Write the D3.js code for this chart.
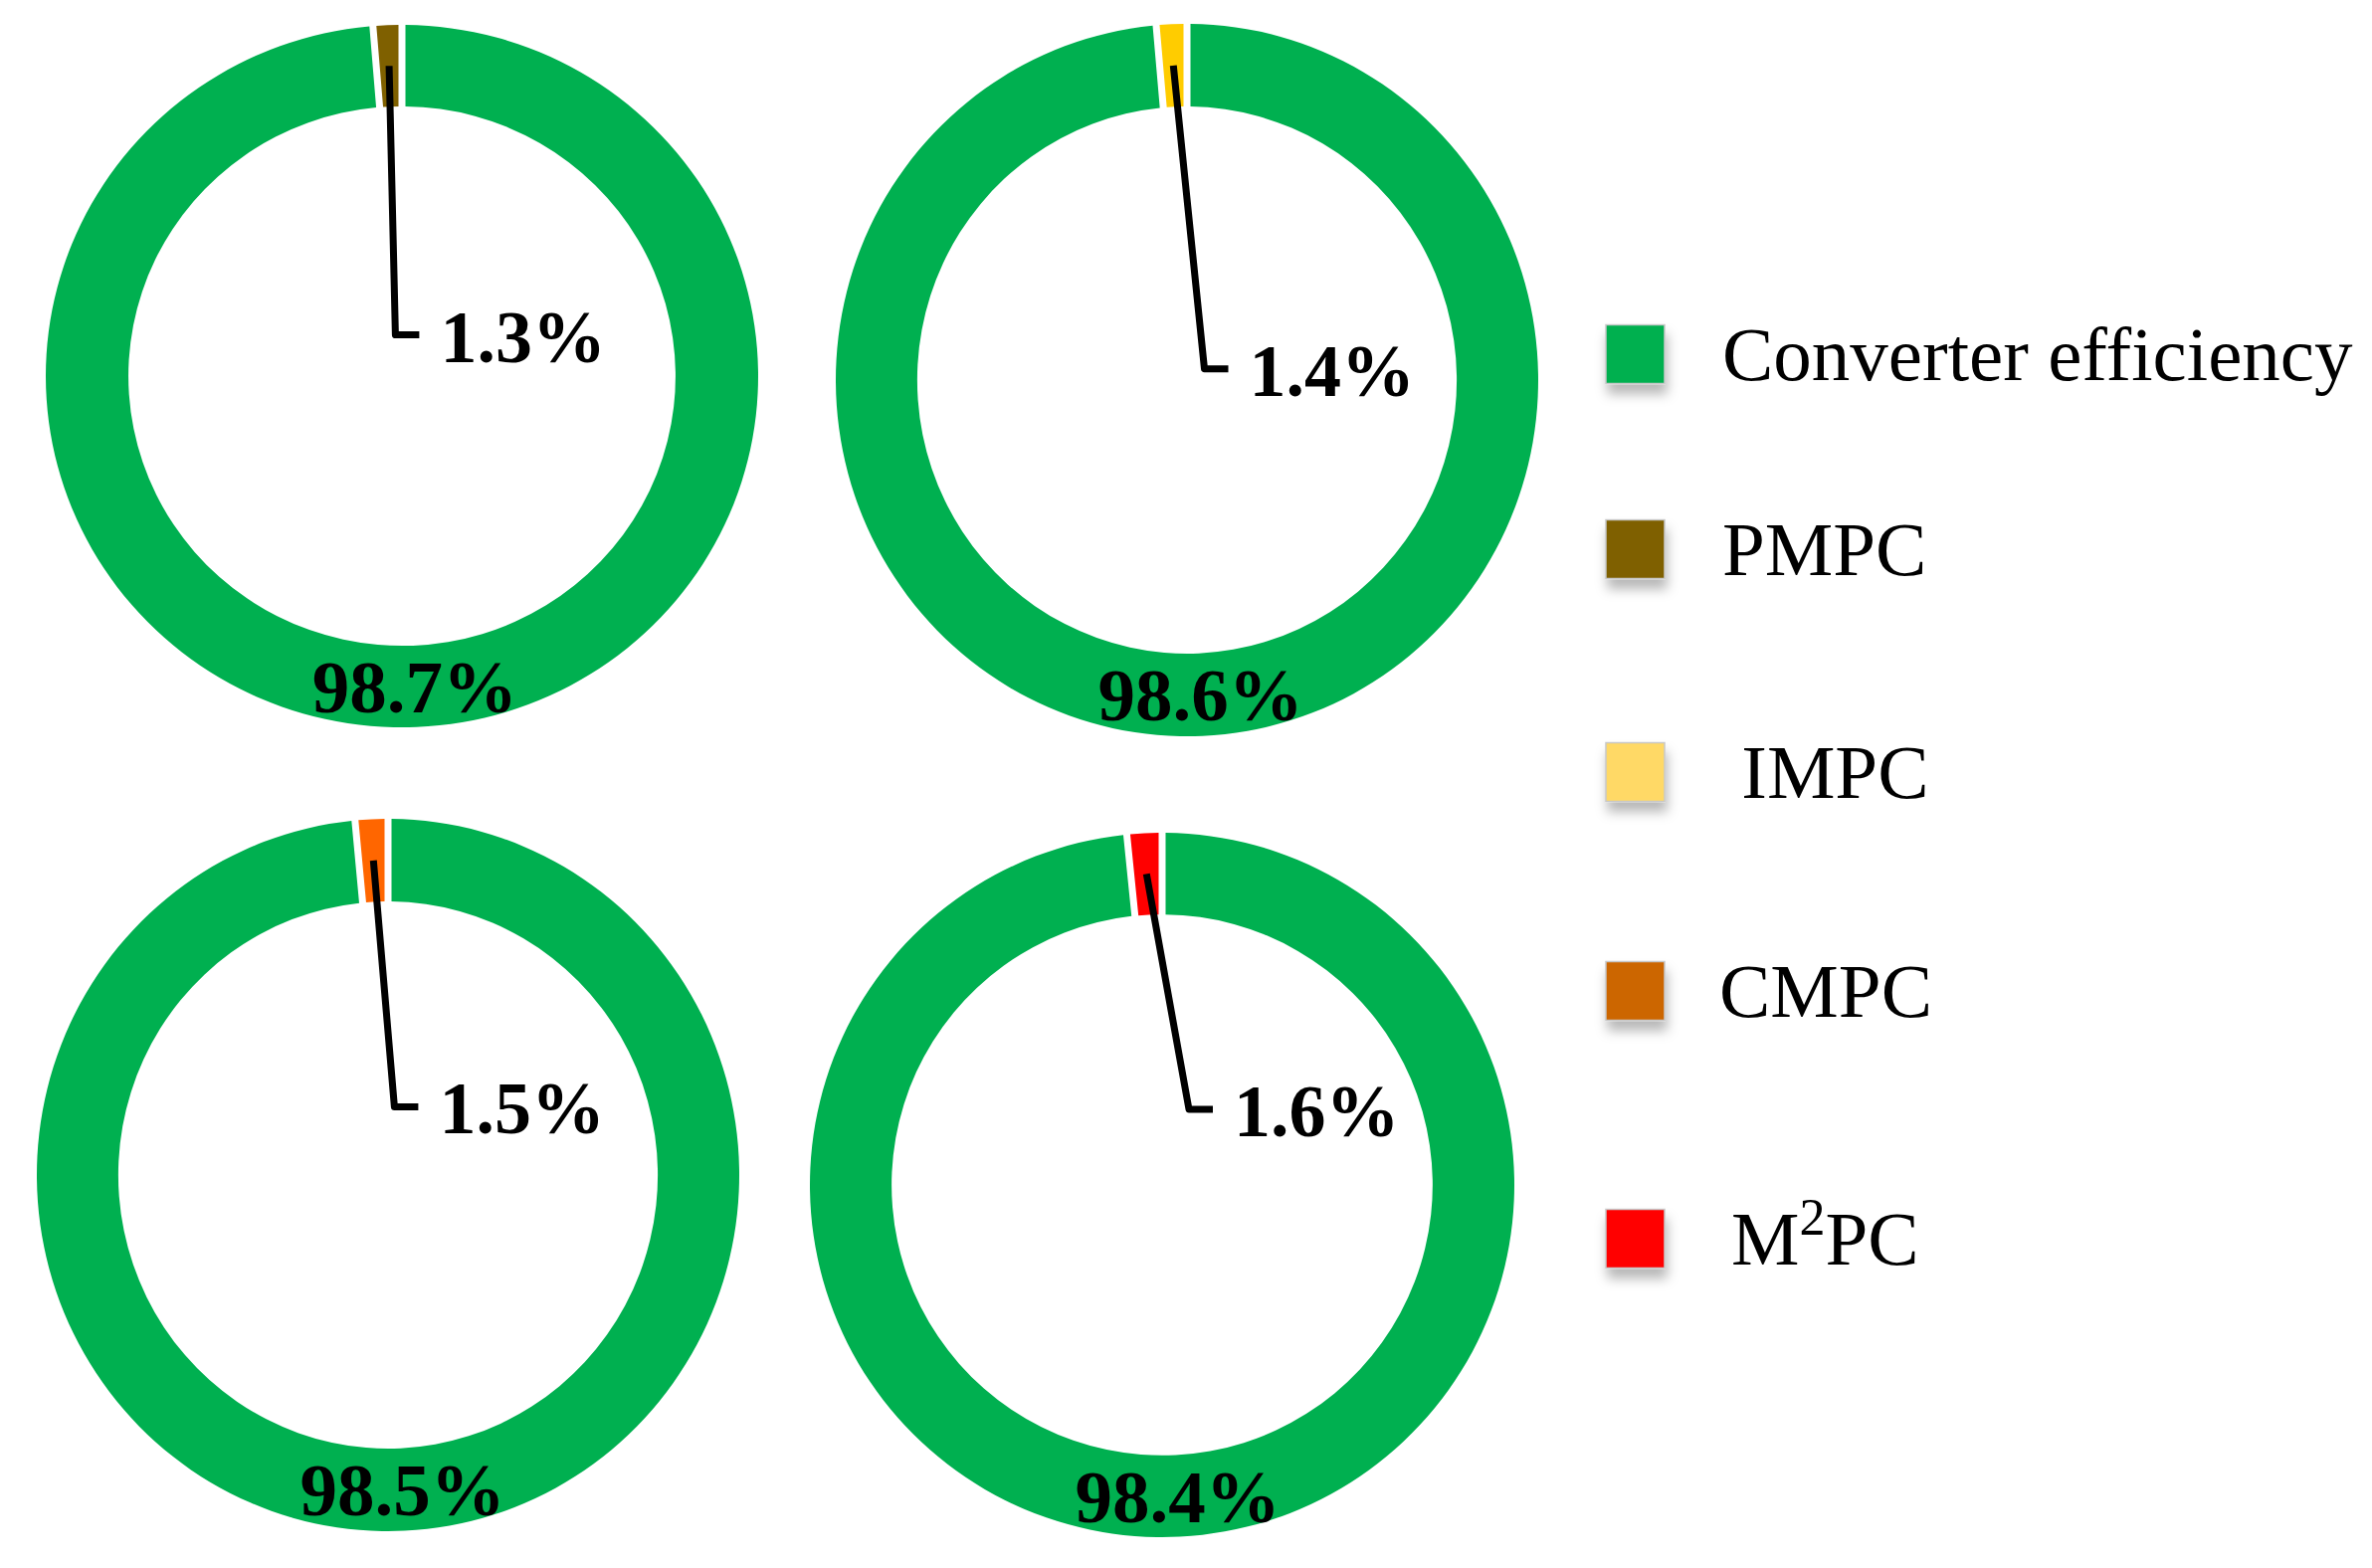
<!DOCTYPE html>
<html>
<head>
<meta charset="utf-8">
<script src="https://cdn.jsdelivr.net/npm/d3@7"></script>
<style>
  html, body { margin: 0; padding: 0; background: #fff; }
  svg { display: block; }
</style>
</head>
<body>
<script>
// ---------------- data ----------------
const methods = ["PMPC", "IMPC", "CMPC", "M2PC"];
const lossShare = [1.3, 1.4, 1.5, 1.6];          // small slice (%)
const efficiency = [98.7, 98.6, 98.5, 98.4];     // converter efficiency (%)
const sliceColors = ["#7F6000", "#FFCC00", "#FF6600", "#FF0000"];

const legendLabels = ["Converter efficiency", "PMPC", " IMPC", "CMPC", "M2PC"];
const legendColors = ["#00B050", "#7F6000", "#FFD966", "#CC6600", "#FF0000"];
const green = "#00B050";

// ---------------- layout ----------------
const W = 2384, H = 1576;
const donutLayout = [
  { cx: 404,  cy: 378,  rx: 358, ry: 353, elbow: [-6.6, -41.4] },
  { cx: 1193, cy: 382,  rx: 353, ry: 358, elbow: [17.5, -11.3] },
  { cx: 390,  cy: 1181, rx: 353, ry: 358, elbow: [6.4, -68.6] },
  { cx: 1168, cy: 1191, rx: 354, ry: 354, elbow: [27, -76] }
];
const innerRatio = 0.768;
const gapPx = 7;
const legendRowY = [356, 552, 776, 996, 1245];
const legendX = 1614, swatch = 59, legendTextX = [1731, 1731, 1731, 1728, 1740];

const svg = d3.select("body").append("svg")
  .attr("width", W).attr("height", H)
  .attr("viewBox", `0 0 ${W} ${H}`)
  .style("background", "#fff");

const defs = svg.append("defs");
const f = defs.append("filter").attr("id", "shadow")
  .attr("x", "-50%").attr("y", "-50%").attr("width", "200%").attr("height", "220%");
f.append("feDropShadow").attr("dx", 2).attr("dy", 10).attr("stdDeviation", 6)
  .attr("flood-color", "#000").attr("flood-opacity", 0.28);

const serif = "'Liberation Serif', 'Times New Roman', Times, serif";

methods.forEach((m, i) => {
  const L = donutLayout[i];
  const R = L.rx, r = R * innerRatio, sy = L.ry / L.rx;
  const p = lossShare[i] / (lossShare[i] + efficiency[i]);
  const start = -2 * Math.PI * p;
  const pie = d3.pie().sort(null).value(d => d.v)
    .startAngle(start).endAngle(start + 2 * Math.PI);
  const arcs = pie([
    { name: m, v: lossShare[i], color: sliceColors[i] },
    { name: "Converter efficiency", v: efficiency[i], color: green }
  ]);
  const arc = d3.arc().innerRadius(r).outerRadius(R)
    .padAngle(gapPx / R).padRadius(R);

  const g = svg.append("g").attr("transform", `translate(${L.cx},${L.cy})`);
  g.append("g").attr("transform", `scale(1,${sy})`)
    .selectAll("path").data(arcs).join("path")
    .attr("d", arc)
    .attr("fill", d => d.data.color);

  // leader line from small slice centroid to elbow, then a short horizontal tick
  const c = arc.centroid(arcs[0]);
  const s = [c[0], c[1] * sy];
  const e = L.elbow;
  g.append("path")
    .attr("d", d3.line()([s, e, [e[0] + 24, e[1]]]))
    .attr("fill", "none").attr("stroke", "#000")
    .attr("stroke-width", 7).attr("stroke-linejoin", "round");

  g.append("text")
    .attr("x", e[0] + 45).attr("y", e[1] + 27)
    .attr("font-family", serif).attr("font-weight", "bold")
    .attr("font-size", 74).attr("fill", "#000")
    .text(d3.format(".1f")(lossShare[i]) + "%");

  const gc = arc.centroid(arcs[1]);
  g.append("text")
    .attr("x", gc[0]).attr("y", gc[1] * sy)
    .attr("dy", "0.35em")
    .attr("text-anchor", "middle")
    .attr("font-family", serif).attr("font-weight", "bold")
    .attr("font-size", 75).attr("fill", "#000")
    .text(d3.format(".1f")(efficiency[i]) + "%");
});

// ---------------- legend ----------------
const lg = svg.append("g");
legendLabels.forEach((lab, i) => {
  const y = legendRowY[i];
  lg.append("rect")
    .attr("x", legendX).attr("y", y - swatch / 2)
    .attr("width", swatch).attr("height", swatch)
    .attr("fill", legendColors[i])
    .attr("stroke", "#c8c8c8").attr("stroke-width", 1.5)
    .attr("filter", "url(#shadow)");
  const t = lg.append("text")
    .attr("x", legendTextX[i]).attr("y", y + 26)
    .attr("font-family", serif).attr("font-size", 77).attr("fill", "#000")
    .attr("xml:space", "preserve").style("white-space", "pre");
  if (lab === "M2PC") {
    t.append("tspan").text("M");
    t.append("tspan").attr("font-size", 52).attr("dy", -30).text("2");
    t.append("tspan").attr("dy", 30).text("PC");
  } else {
    t.text(lab);
  }
});
</script>
</body>
</html>
